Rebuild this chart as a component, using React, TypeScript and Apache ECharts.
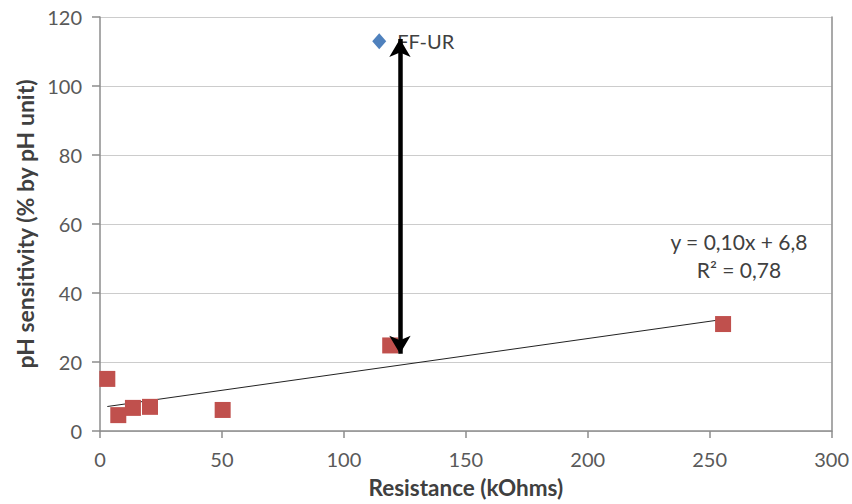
import React, { useEffect, useRef } from "react";
import * as echarts from "echarts";

const redPoints: [number, number][] = [
  [3, 15.1],
  [7.5, 4.6],
  [13.5, 6.7],
  [20.5, 7],
  [50.3, 6.1],
  [119, 24.8],
  [255.5, 31],
];
const bluePoint: [number, number][] = [[114.5, 113]];
const blueLabel = "FF-UR";
const trendLine: [number, number][] = [
  [3, 7.1],
  [255, 32.3],
];
const arrowX = 123;
const arrowTop = 113.6;
const arrowBottom = 22.4;
const equationText = "y = 0,10x + 6,8";
const r2Text = "R² = 0,78";
const equationPos: [number, number] = [262, 54.8];
const r2Pos: [number, number] = [262, 46.7];

const FONT = "Lato, 'Open Sans', sans-serif";

export default function App() {
  const ref = useRef<HTMLDivElement>(null);
  useEffect(() => {
    if (!ref.current) return;
    const chart = echarts.init(ref.current, undefined, { renderer: "svg" });
    chart.setOption({
      animation: false,
      backgroundColor: "#fff",
      textStyle: { fontFamily: FONT },
      grid: { left: 100, right: 17, top: 17, bottom: 73 },
      xAxis: {
        type: "value",
        min: 0,
        max: 300,
        interval: 50,
        name: "Resistance (kOhms)",
        nameLocation: "middle",
        nameGap: 45,
        nameTextStyle: { fontSize: 22.5, fontWeight: "bold", color: "#404040", fontFamily: FONT },
        axisLine: { show: true, lineStyle: { color: "#8c8c8c", width: 1.5 } },
        axisTick: { show: true, length: 7, lineStyle: { color: "#8c8c8c", width: 1.5 } },
        axisLabel: { color: "#595959", fontSize: 20, margin: 18, fontFamily: FONT },
        splitLine: { show: false },
      },
      yAxis: [
        {
          type: "value",
          min: 0,
          max: 120,
          interval: 20,
          name: "pH sensitivity (% by pH unit)",
          nameLocation: "middle",
          nameGap: 58,
          nameRotate: 90,
          nameTextStyle: { fontSize: 23, fontWeight: "bold", color: "#404040", fontFamily: FONT },
          axisLine: { show: true, lineStyle: { color: "#8c8c8c", width: 1.5 } },
          axisTick: { show: true, length: 8, lineStyle: { color: "#8c8c8c", width: 1.5 } },
          axisLabel: { color: "#595959", fontSize: 20, margin: 18, fontFamily: FONT },
          splitLine: { show: true, lineStyle: { color: "#cccccc", width: 1.2 } },
        },
        {
          type: "value",
          min: 0,
          max: 120,
          interval: 20,
          position: "right",
          axisLine: { show: true, onZero: false, lineStyle: { color: "#8c8c8c", width: 1.5 } },
          axisTick: { show: false },
          axisLabel: { show: false },
          splitLine: { show: false },
        },
      ],
      series: [
        {
          type: "line",
          data: trendLine,
          symbol: "none",
          lineStyle: { color: "#222", width: 1 },
          z: 2,
          markLine: {
            silent: true,
            symbol: ["arrow", "arrow"],
            symbolSize: [16, 18],
            label: { show: false },
            lineStyle: {
              color: "#000",
              width: 4.5,
              type: "solid",
              opacity: 1,
            },
            data: [
              [
                { coord: [arrowX, arrowBottom] },
                { coord: [arrowX, arrowTop] },
              ],
            ],
          },
        },
        {
          type: "scatter",
          data: redPoints,
          symbol: "rect",
          symbolSize: 16,
          itemStyle: { color: "#C0504D", opacity: 1 },
          z: 3,
        },
        {
          type: "scatter",
          data: bluePoint,
          symbol: "diamond",
          symbolSize: [14, 16],
          itemStyle: { color: "#4F81BD", opacity: 1 },
          label: {
            show: true,
            position: "right",
            distance: 11,
            formatter: blueLabel,
            color: "#404040",
            fontSize: 20,
            fontFamily: FONT,
          },
          z: 3,
          markPoint: {
            symbol: "circle",
            symbolSize: 0,
            silent: true,
            data: [
              {
                coord: equationPos,
                label: {
                  show: true,
                  formatter: equationText,
                  position: "inside",
                  color: "#404040",
                  fontSize: 21,
                  fontFamily: FONT,
                },
              },
              {
                coord: r2Pos,
                label: {
                  show: true,
                  formatter: r2Text,
                  position: "inside",
                  color: "#404040",
                  fontSize: 21,
                  fontFamily: FONT,
                },
              },
            ],
          },
        },
      ],
    });
    return () => chart.dispose();
  }, []);
  return <div ref={ref} style={{ width: 852, height: 504, position: "absolute", left: 0, top: 0 }} />;
}
